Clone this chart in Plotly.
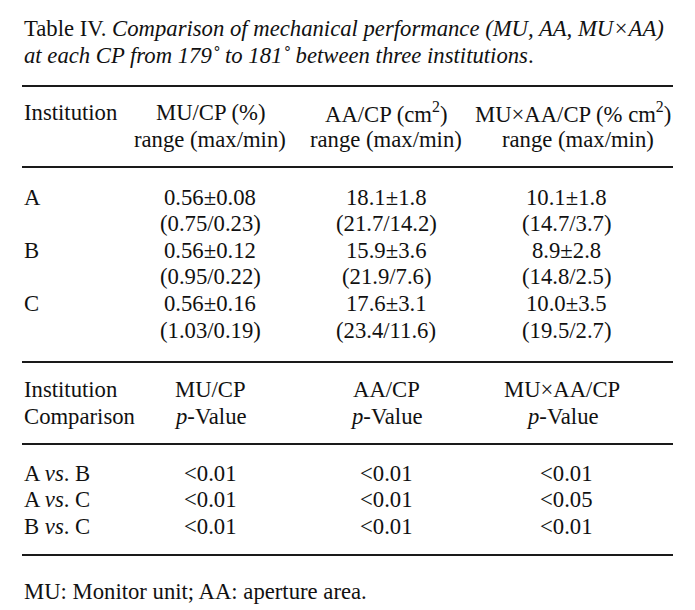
import plotly.graph_objects as go

# ---- data ----
institutions = ["A", "B", "C"]
mu_mean = [0.56, 0.56, 0.56]
mu_sd = [0.08, 0.12, 0.16]
mu_max = [0.75, 0.95, 1.03]
mu_min = [0.23, 0.22, 0.19]
aa_mean = [18.1, 15.9, 17.6]
aa_sd = [1.8, 3.6, 3.1]
aa_max = [21.7, 21.9, 23.4]
aa_min = [14.2, 7.6, 11.6]
muaa_mean = [10.1, 8.9, 10.0]
muaa_sd = [1.8, 2.8, 3.5]
muaa_max = [14.7, 14.8, 19.5]
muaa_min = [3.7, 2.5, 2.7]

comparisons = [("A", "B"), ("A", "C"), ("B", "C")]
p_mu = ["<0.01", "<0.01", "<0.01"]
p_aa = ["<0.01", "<0.01", "<0.01"]
p_muaa = ["<0.01", "<0.05", "<0.01"]

title_1 = "Table IV. <i>Comparison of mechanical performance (MU, AA, MU×AA)</i>"
title_2 = "<i>at each CP from 179˚ to 181˚ between three institutions</i>."
header1_top = ["Institution", "MU/CP (%)", "AA/CP (cm<sup>2</sup>)", "MU×AA/CP (% cm<sup>2</sup>)"]
header1_bot = ["", "range (max/min)", "range (max/min)", "range (max/min)"]
header2_top = ["Institution", "MU/CP", "AA/CP", "MU×AA/CP"]
header2_bot = ["Comparison", "<i>p</i>-Value", "<i>p</i>-Value", "<i>p</i>-Value"]
footnote = "MU: Monitor unit; AA: aperture area."

# ---- layout constants ----
W, H = 695, 610
FONT = "Liberation Serif"
FS = 22.7
COLOR = "#111111"
LEFT, RIGHT = 22, 673
col_x = [210, 386, 566]

fig = go.Figure()
ann = []


def text(x, y, s, anchor="center", size=FS):
    if not s:
        return
    ann.append(dict(x=x, y=y, xref="x", yref="y", text=s, showarrow=False,
                    xanchor=anchor, yanchor="middle", align=anchor,
                    font=dict(family=FONT, size=size, color=COLOR)))


def rule(y):
    fig.add_shape(type="line", x0=LEFT, x1=RIGHT, y0=y, y1=y, xref="x", yref="y",
                  line=dict(color="#1a1a1a", width=1.8))


# title
text(LEFT, 28, title_1, "left")
text(LEFT, 55, title_2, "left")

rule(86)
# header 1
h1a, h1b = 112, 139
text(LEFT, h1a, header1_top[0], "left")
text(col_x[0], h1a, header1_top[1])
text(col_x[0], h1b, header1_bot[1])
text(col_x[1], h1a, header1_top[2])
text(col_x[1], h1b, header1_bot[2])
text(RIGHT, h1a, header1_top[3], "right")
text(578, h1b, header1_bot[3])
rule(167)

row_step = 26.6
y0 = 197
for i, inst in enumerate(institutions):
    ya = y0 + 2 * i * row_step
    yb = ya + row_step
    text(LEFT, ya, inst, "left")
    text(col_x[0], ya, f"{mu_mean[i]:.2f}±{mu_sd[i]:.2f}")
    text(col_x[0], yb, f"({mu_max[i]:.2f}/{mu_min[i]:.2f})")
    text(col_x[1], ya, f"{aa_mean[i]:.1f}±{aa_sd[i]:.1f}")
    text(col_x[1], yb, f"({aa_max[i]:.1f}/{aa_min[i]:.1f})")
    text(col_x[2], ya, f"{muaa_mean[i]:.1f}±{muaa_sd[i]:.1f}")
    text(col_x[2], yb, f"({muaa_max[i]:.1f}/{muaa_min[i]:.1f})")

rule(362)
h2a, h2b = 389, 416
text(LEFT, h2a, header2_top[0], "left")
text(LEFT, h2b, header2_bot[0], "left")
hx2 = [col_x[0], col_x[1], 562]
for j in range(3):
    text(hx2[j], h2a, header2_top[j + 1])
    text(hx2[j], h2b, header2_bot[j + 1])
rule(444)

for i, (a, b) in enumerate(comparisons):
    y = 473 + i * row_step
    text(LEFT, y, f"{a} <i>vs</i>. {b}", "left")
    text(col_x[0], y, p_mu[i])
    text(col_x[1], y, p_aa[i])
    text(col_x[2], y, p_muaa[i])

rule(555)
text(LEFT, 591, footnote, "left")

fig.update_layout(
    width=W, height=H, margin=dict(l=0, r=0, t=0, b=0),
    paper_bgcolor="white", plot_bgcolor="white",
    xaxis=dict(range=[0, W], visible=False, fixedrange=True),
    yaxis=dict(range=[H, 0], visible=False, fixedrange=True),
    annotations=ann, showlegend=False,
)
fig.write_html("out.html", config={"displayModeBar": False},
               post_script="document.body.style.margin='0';document.body.style.overflow='hidden';")
